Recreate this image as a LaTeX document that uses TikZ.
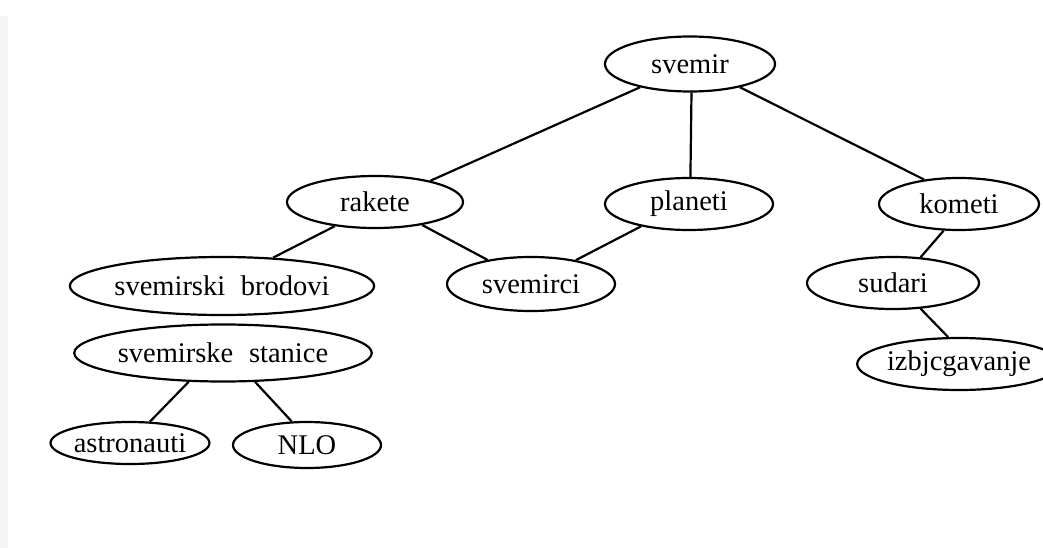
\documentclass[tikz,border=0pt]{standalone}
\usepackage{fontspec}
\setmainfont{Liberation Serif}
\usetikzlibrary{shapes.geometric}
\tikzset{
  oval/.style={draw=black, ellipse, line width=2.2pt, inner sep=0pt, font=\fontsize{28.5}{30}\selectfont},
  link/.style={draw=black, line width=2.2pt}
}
\newcommand{\wsp}{\hspace{0.55em}}
\begin{document}
\begin{tikzpicture}[x=1pt,y=-1pt]
\useasboundingbox (0,0) rectangle (1043,548);
\fill[black!4] (0,16) rectangle (8,548);
\node[oval, minimum width=170pt, minimum height=55pt] (svemir) at (690,64) {svemir};
\node[oval, minimum width=176pt, minimum height=52pt] (rakete) at (375,202) {rakete};
\node[oval, minimum width=168pt, minimum height=52pt] (planeti) at (689,204) {planeti};
\node[oval, minimum width=160pt, minimum height=52pt] (kometi) at (959,204) {kometi};
\node[oval, minimum width=260pt, minimum height=58pt] (brodovi) at (222,286) {svemirski\wsp brodovi};
\node[oval, minimum width=168pt, minimum height=54pt] (svemirci) at (531,284) {svemirci};
\node[oval, minimum width=172pt, minimum height=52pt] (sudari) at (893,283) {sudari};
\node[oval, minimum width=160pt, minimum height=52pt] (izbj) at (959,364) {izbjcgavanje};
\node[oval, minimum width=257pt, minimum height=57pt] (stanice) at (223,353) {svemirske\wsp stanice};
\node[oval, minimum width=146pt, minimum height=42pt] (astronauti) at (130,443) {astronauti};
\node[oval, minimum width=148pt, minimum height=46pt] (nlo) at (307,445) {NLO};
\draw[link] (svemir.-155) -- (rakete.21);
\draw[link] (svemir.-87) -- (planeti.87);
\draw[link] (svemir.-25) -- (kometi.145);
\draw[link] (rakete.-149) -- (brodovi.29);
\draw[link] (rakete.-26) -- (svemirci.151);
\draw[link] (planeti.-155) -- (svemirci.28);
\draw[link] (kometi.-120) -- (sudari.43);
\draw[link] (sudari.-43) -- (izbj.112);
\draw[link] (stanice.-140) -- (astronauti.47);
\draw[link] (stanice.-42) -- (nlo.123);
\end{tikzpicture}
\end{document}
